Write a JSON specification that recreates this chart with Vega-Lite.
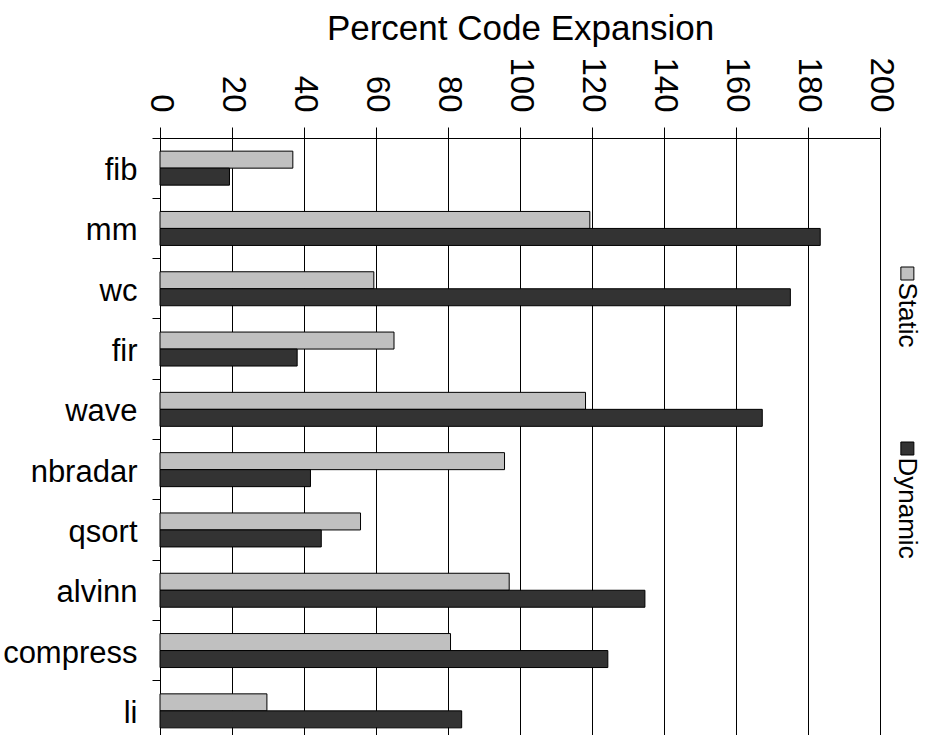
{
  "$schema": "https://vega.github.io/schema/vega-lite/v6.json",
  "autosize": {"type": "none"},
  "padding": {"left": 160, "top": 138, "right": 49, "bottom": 0},
  "width": 720,
  "height": 603,
  "background": "white",
  "config": {"font": "Liberation Sans", "view": {"stroke": null}},
  "datasets": {
    "bars": [
      {"benchmark": "fib", "series": "Static", "pct": 36.9},
      {"benchmark": "fib", "series": "Dynamic", "pct": 19.3},
      {"benchmark": "mm", "series": "Static", "pct": 119.4},
      {"benchmark": "mm", "series": "Dynamic", "pct": 183.4},
      {"benchmark": "wc", "series": "Static", "pct": 59.4},
      {"benchmark": "wc", "series": "Dynamic", "pct": 175.1},
      {"benchmark": "fir", "series": "Static", "pct": 65.0},
      {"benchmark": "fir", "series": "Dynamic", "pct": 38.1},
      {"benchmark": "wave", "series": "Static", "pct": 118.2},
      {"benchmark": "wave", "series": "Dynamic", "pct": 167.3},
      {"benchmark": "nbradar", "series": "Static", "pct": 95.7},
      {"benchmark": "nbradar", "series": "Dynamic", "pct": 41.8},
      {"benchmark": "qsort", "series": "Static", "pct": 55.7},
      {"benchmark": "qsort", "series": "Dynamic", "pct": 44.8},
      {"benchmark": "alvinn", "series": "Static", "pct": 97.0},
      {"benchmark": "alvinn", "series": "Dynamic", "pct": 134.7},
      {"benchmark": "compress", "series": "Static", "pct": 80.7},
      {"benchmark": "compress", "series": "Dynamic", "pct": 124.4},
      {"benchmark": "li", "series": "Static", "pct": 29.7},
      {"benchmark": "li", "series": "Dynamic", "pct": 83.8}
    ],
    "legend": [
      {"series": "Static"},
      {"series": "Dynamic"}
    ]
  },
  "layer": [
    {
      "data": {"name": "bars"},
      "mark": {"type": "bar", "stroke": "#000000", "strokeWidth": 1},
      "encoding": {
        "y": {
          "field": "benchmark",
          "type": "nominal",
          "sort": ["fib", "mm", "wc", "fir", "wave", "nbradar", "qsort", "alvinn", "compress", "li"],
          "scale": {"paddingInner": 0, "paddingOuter": 0},
          "axis": {
            "orient": "left",
            "title": null,
            "bandPosition": 0,
            "tickSize": 8,
            "tickColor": "#000000",
            "domainColor": "#000000",
            "labelFontSize": 31,
            "labelPadding": 15,
            "labelOffset": 3,
            "labelColor": "#000000",
            "labelBaseline": "middle",
            "grid": false
          }
        },
        "yOffset": {
          "field": "series",
          "type": "nominal",
          "sort": ["Static", "Dynamic"],
          "scale": {"paddingInner": 0, "paddingOuter": 0.774}
        },
        "x": {
          "field": "pct",
          "type": "quantitative",
          "scale": {"domain": [0, 200], "nice": false},
          "axis": {
            "orient": "top",
            "values": [0, 20, 40, 60, 80, 100, 120, 140, 160, 180, 200],
            "grid": true,
            "gridColor": "#000000",
            "gridOpacity": 1,
            "gridWidth": 1,
            "domainColor": "#000000",
            "tickColor": "#000000",
            "tickSize": 11,
            "labelAngle": 90,
            "labelAlign": "right",
            "labelBaseline": "middle",
            "labelFontSize": 33,
            "labelPadding": 15,
            "labelColor": "#000000",
            "labelFlush": false,
            "labelOverlap": false,
            "title": "Percent Code Expansion",
            "titleFontSize": 35,
            "titleFontWeight": "normal",
            "titleColor": "#000000",
            "titleBaseline": "alphabetic",
            "titleY": -98.5
          }
        },
        "fill": {
          "field": "series",
          "type": "nominal",
          "scale": {"domain": ["Static", "Dynamic"], "range": ["#c0c0c0", "#333333"]},
          "legend": null
        }
      }
    },
    {
      "data": {"name": "legend"},
      "encoding": {
        "x": {"datum": 207.6, "type": "quantitative"},
        "y": {
          "field": "series",
          "type": "nominal",
          "sort": ["Static", "Dynamic"],
          "scale": {"type": "point", "range": [135.5, 310.5], "padding": 0},
          "axis": null
        }
      },
      "layer": [
        {
          "mark": {"type": "square", "size": 169, "filled": true, "stroke": "#000000", "strokeWidth": 1, "opacity": 1},
          "encoding": {
            "fill": {"field": "series", "type": "nominal", "legend": null}
          }
        },
        {
          "mark": {"type": "text", "angle": 90, "align": "left", "baseline": "middle", "dx": 9, "fontSize": 26, "color": "#000000"},
          "encoding": {
            "text": {"field": "series"}
          }
        }
      ]
    }
  ],
  "resolve": {"scale": {"y": "independent"}}
}
